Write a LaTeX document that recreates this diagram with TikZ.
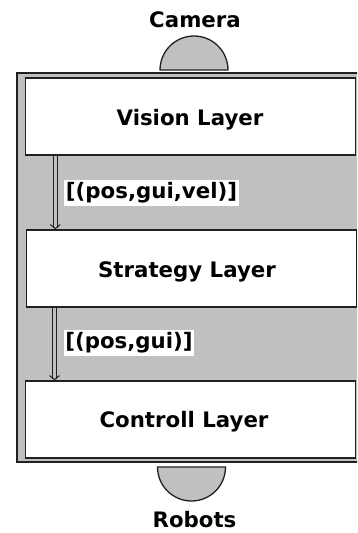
\documentclass[tikz,border=0pt]{standalone}
\usepackage{fontspec}
\setmainfont{DejaVu Sans}
\usetikzlibrary{arrows.meta}
\definecolor{panel}{HTML}{C0C0C0}
\definecolor{edge}{HTML}{202020}
\tikzset{
  bigtext/.style={font=\bfseries\fontsize{21.3}{24}\selectfont},
  layer/.style={draw=edge, line width=1.6pt, fill=white, minimum width=330pt,
    minimum height=77pt, inner sep=0pt},
  dome/.style={draw=edge, line width=1.3pt, fill=panel},
  caption/.style={bigtext, inner sep=0pt, anchor=base},
  flowlabel/.style={bigtext, fill=white, inner xsep=1.5pt, inner ysep=3pt},
  flow/.style={draw=edge, double=panel, double distance=2.6pt, line width=0.9pt,
    -{Straight Barb[length=4pt,width=10pt,line width=1pt]}}
}
\begin{document}
\begin{tikzpicture}[x=1pt,y=-1pt]
  \useasboundingbox (0,0) rectangle (357,533);
  \clip (0,0) rectangle (357,533);
  % enclosing panel
  \draw[draw=edge, line width=1.6pt, fill=panel] (17,73) rectangle (365,462);
  % the three layers
  \node[layer] (vision)   at (190.5,116.5) {};
  \node[layer] (strategy) at (191.5,268.5) {};
  \node[layer] (control)  at (190.5,419.5) {};
  \node[caption] (visiontext)   at (190,125) {Vision Layer};
  \node[caption] (strategytext) at (187,277.5) {Strategy Layer};
  \node[caption] (controltext)  at (184,427) {Controll Layer};
  % camera above, robots below
  \draw[dome] (160,70) arc[start angle=180, end angle=360, radius=34] -- cycle;
  \draw[dome] (157.5,467) arc[start angle=180, end angle=0, radius=34] -- cycle;
  \node[caption] (camera) at (195,27.5) {Camera};
  \node[caption] (robots) at (194.5,527) {Robots};
  % data flow between layers
  \coordinate (a1) at (55.3,0);
  \coordinate (a2) at (54.5,0);
  \draw[flow] (vision.south -| a1) -- (strategy.north -| a1);
  \draw[flow] (strategy.south -| a2) -- (control.north -| a2);
  \node[flowlabel] (l1) at (151.5,193) {[(pos,gui,vel)]};
  \node[flowlabel] (l2) at (129,343) {[(pos,gui)]};
\end{tikzpicture}
\end{document}
